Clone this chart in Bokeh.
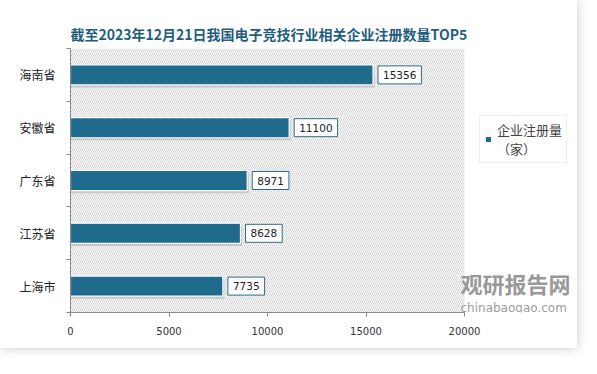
from bokeh.plotting import figure
from bokeh.models import (ColumnDataSource, Label, Legend, LegendItem, FixedTicker,
                          BoxAnnotation, Range1d)
from bokeh.core.properties import value
from bokeh.transform import dodge
from bokeh.embed import file_html
from bokeh.resources import INLINE

provinces = ["海南省", "安徽省", "广东省", "江苏省", "上海市"]
counts = [15356, 11100, 8971, 8628, 7735]
x_ticks = [0, 5000, 10000, 15000, 20000]
series_name = "企业注册量\n（家）"
title_text = "截至2023年12月21日我国电子竞技行业相关企业注册数量TOP5"

BAR = "#1E6B8E"
CJK = "Noto Sans CJK SC"
X_MAX = 20000

n = len(provinces)
ypos = [n - i - 0.5 for i in range(n)]
src = ColumnDataSource(dict(y=ypos, v=counts, lab=[str(c) for c in counts]))

# frame extends to the right edge; the value axis stops at X_MAX
p = figure(width=577, height=348, output_backend="svg", toolbar_location=None,
           x_range=Range1d(0, X_MAX * 507 / 394), y_range=Range1d(0, n),
           min_border_left=70, min_border_right=0, min_border_top=48,
           min_border_bottom=36)
p.styles = {"box-shadow": "0 0 10px rgba(0,0,0,0.22)"}
p.outline_line_color = None
p.background_fill_color = "white"
p.border_fill_color = "white"
p.xgrid.grid_line_color = None
p.ygrid.grid_line_color = None

p.title.text = title_text
p.title.align = "left"
p.title.text_font = CJK
p.title.text_font_size = "14px"
p.title.text_font_style = "bold"
p.title.text_color = "#1F5E7D"
p.title.standoff = 10

hatch = BoxAnnotation(left=0, right=X_MAX, fill_alpha=0, line_color=None,
                      hatch_pattern="\\", hatch_color="#c8c8c8", hatch_scale=4,
                      hatch_weight=0.8, level="underlay")
p.add_layout(hatch)

# y axis
p.yaxis.ticker = FixedTicker(ticks=ypos, minor_ticks=list(range(n + 1)))
p.yaxis.major_label_overrides = {y: name for y, name in zip(ypos, provinces)}
p.yaxis.major_tick_line_color = None
p.yaxis.major_tick_out = 0
p.yaxis.major_tick_in = 0
p.yaxis.minor_tick_line_color = "#888888"
p.yaxis.minor_tick_out = 4
p.yaxis.minor_tick_in = 0
p.yaxis.axis_line_color = "#888888"
p.yaxis.major_label_standoff = 11
p.yaxis.major_label_text_font = CJK
p.yaxis.major_label_text_font_size = "12px"
p.yaxis.major_label_text_color = "#222222"

# x axis
p.xaxis.ticker = FixedTicker(ticks=x_ticks)
p.xaxis.bounds = (0, X_MAX)
p.xaxis.major_tick_out = 4
p.xaxis.major_tick_in = 0
p.xaxis.minor_tick_line_color = None
p.xaxis.axis_line_color = "#888888"
p.xaxis.major_tick_line_color = "#888888"
p.xaxis.major_label_standoff = 10
p.xaxis.major_label_text_font = "DejaVu Sans"
p.xaxis.major_label_text_font_size = "10px"
p.xaxis.major_label_text_color = "#333333"

# shadow + bars
p.hbar(y=dodge("y", -0.05, range=p.y_range), right=dodge("v", 80), left=0,
       height=0.38, source=src, fill_color="#888888", fill_alpha=0.35,
       line_color=None)
bars = p.hbar(y="y", right="v", left=0, height=0.38, source=src,
              fill_color=BAR, line_color="white", line_width=1.2)

p.text(x="v", y="y", text="lab", source=src, x_offset=5, anchor="center_left",
       text_align="left", text_baseline="middle", padding=5,
       background_fill_color="white", border_line_color="#2C6C88",
       border_line_width=1, text_font=value("DejaVu Sans"),
       text_font_size="10.5px", text_color="#222222")

legend = Legend(items=[LegendItem(label=series_name, renderers=[bars])],
                location=(409, 149), glyph_width=8, glyph_height=8,
                label_text_font=CJK, label_text_font_size="13px",
                label_standoff=5, border_line_color="#dddddd",
                padding=4, margin=0, background_fill_alpha=1)
p.add_layout(legend)

p.add_layout(Label(x=390, y=30, x_units="screen", y_units="screen",
                   text="观研报告网", text_font=CJK, text_font_size="22px",
                   text_font_style="bold", text_color="#999999",
                   text_baseline="middle"))
p.add_layout(Label(x=390, y=5, x_units="screen", y_units="screen",
                   text="chinabaogao.com", text_font="DejaVu Sans",
                   text_font_size="12px", text_color="#9c9c9c",
                   text_baseline="middle"))

open("out.html", "w").write(file_html(p, INLINE))
